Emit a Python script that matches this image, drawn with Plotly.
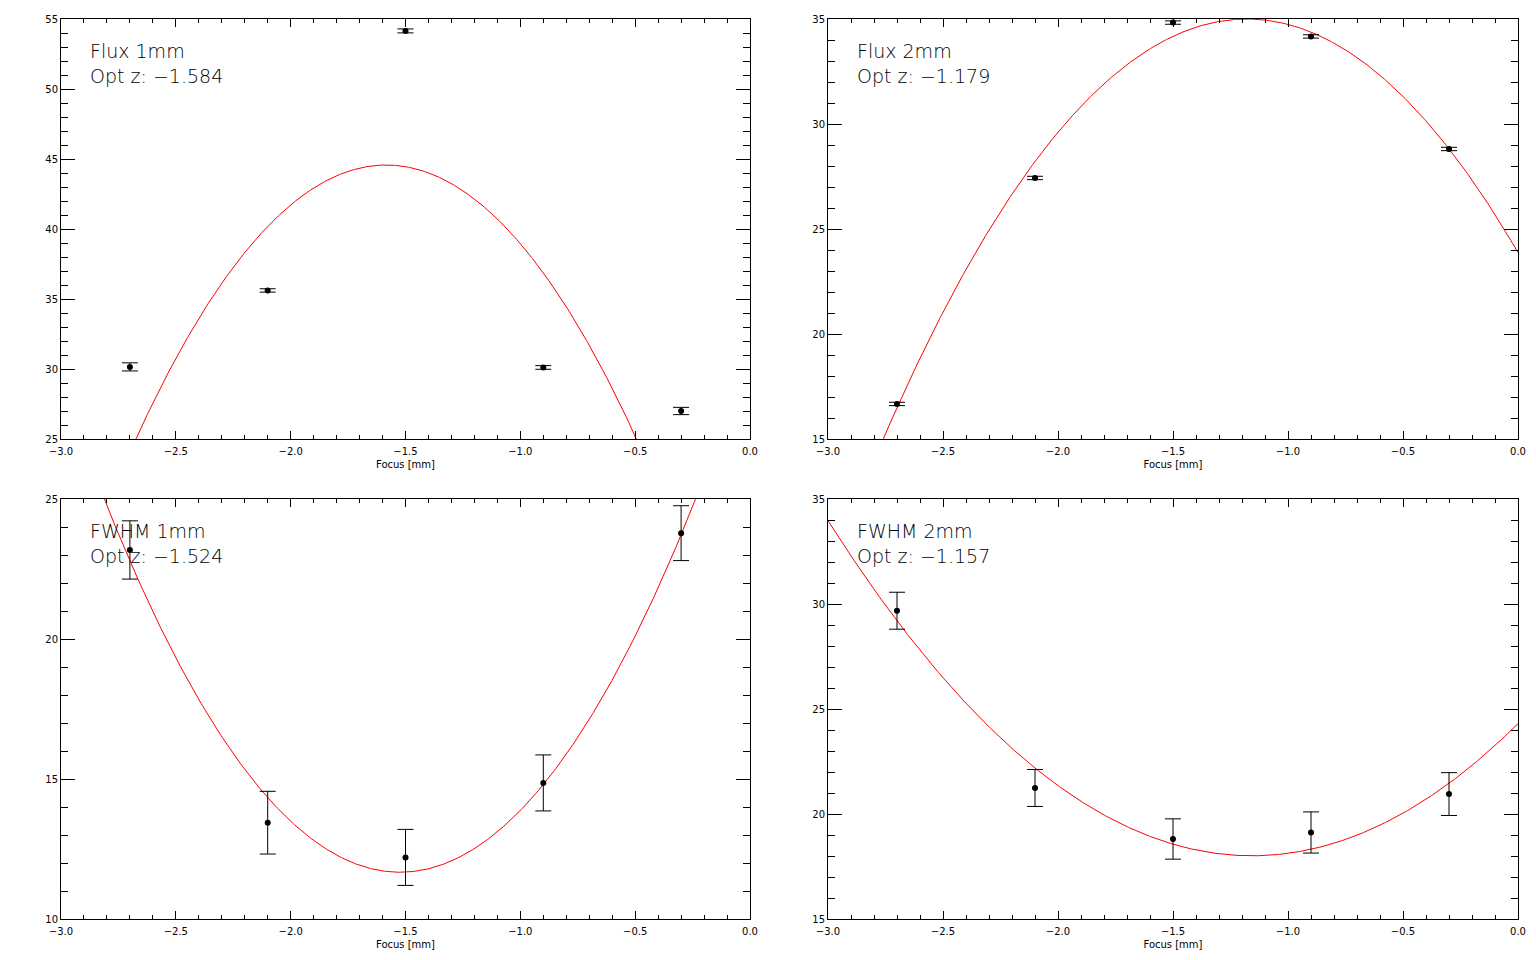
import numpy as np
import plotly.graph_objects as go

# ---- data ----
focus = [-2.7, -2.1, -1.5, -0.9, -0.3]

flux1_vals = [30.15, 35.61, 54.15, 30.11, 27.0]
flux1_errs = [0.29, 0.12, 0.14, 0.13, 0.26]

flux2_vals = [16.67, 27.43, 34.83, 34.17, 28.81]
flux2_errs = [0.08, 0.08, 0.08, 0.08, 0.08]

fwhm1_vals = [23.18, 13.44, 12.20, 14.86, 23.78]
fwhm1_errs = [1.04, 1.12, 1.00, 1.00, 0.98]

fwhm2_vals = [29.68, 21.24, 18.81, 19.12, 20.95]
fwhm2_errs = [0.88, 0.88, 0.96, 0.98, 1.02]

# quadratic fit: vertex (opt z, extremum value) and curvature
panel_names = ["Flux 1mm", "Flux 2mm", "FWHM 1mm", "FWHM 2mm"]
opt_z = [-1.584, -1.179, -1.524, -1.157]
fit_extremum = [44.57, 35.0, 11.67, 18.01]
fit_curvature = [-16.47, -8.0, 8.04, 4.70]

y_ranges = [[25, 55], [15, 35], [10, 25], [15, 35]]
x_range = [-3.0, 0.0]
x_label = "Focus [mm]"

vals = [flux1_vals, flux2_vals, fwhm1_vals, fwhm2_vals]
errs = [flux1_errs, flux2_errs, fwhm1_errs, fwhm2_errs]

OFF = 8  # page body margin
W, H = 1536 - OFF, 960 - OFF
# page-pixel boxes for panels (left, right, top, bottom)
boxes = [(61, 750, 19, 439), (828, 1518, 19, 439),
         (61, 750, 499, 919), (828, 1518, 499, 919)]

fig = go.Figure()
font_ticks = dict(family="DejaVu Sans", size=10, color="black")
font_text = dict(family="DejaVu Sans", size=19, color="black", weight=200)

for i in range(4):
    l, r, t, b = [v - OFF for v in boxes[i]]
    xa = "xaxis" if i == 0 else f"xaxis{i+1}"
    ya = "yaxis" if i == 0 else f"yaxis{i+1}"
    xr = "x" if i == 0 else f"x{i+1}"
    yr = "y" if i == 0 else f"y{i+1}"

    xs = np.linspace(x_range[0], x_range[1], 600)
    ys = fit_extremum[i] + fit_curvature[i] * (xs - opt_z[i]) ** 2
    fig.add_trace(go.Scatter(x=xs, y=ys, mode="lines",
                             line=dict(color="red", width=1),
                             xaxis=xr, yaxis=yr, showlegend=False,
                             hoverinfo="skip"))
    fig.add_trace(go.Scatter(x=focus, y=vals[i], mode="markers",
                             marker=dict(color="black", size=6),
                             error_y=dict(type="data", array=errs[i],
                                          color="black", thickness=1, width=8),
                             xaxis=xr, yaxis=yr, showlegend=False))

    fig.layout[xa] = dict(
        domain=[l / W, r / W], anchor=yr, range=x_range, automargin=False,
        showline=True, linecolor="black", linewidth=1, mirror="ticks",
        ticks="inside", ticklen=8, tickcolor="black", tickwidth=1,
        dtick=0.5, tick0=0, tickformat=".1f", tickfont=font_ticks,
        ticklabelstandoff=3,
        minor=dict(dtick=0.1, ticklen=4, ticks="inside", tickcolor="black"),
        showgrid=False, zeroline=False,
        title=dict(text=x_label, font=font_ticks, standoff=4),
    )
    fig.layout[ya] = dict(
        domain=[1 - b / H, 1 - t / H], anchor=xr, range=y_ranges[i],
        automargin=False,
        showline=True, linecolor="black", linewidth=1, mirror="ticks",
        ticks="inside", ticklen=14, tickcolor="black", tickwidth=1,
        dtick=5, tickfont=font_ticks,
        minor=dict(dtick=1, ticklen=7, ticks="inside", tickcolor="black"),
        showgrid=False, zeroline=False,
    )

    ad = f"{xr} domain"
    yd = f"{yr} domain"
    label = f"{panel_names[i]}<br>Opt z: \u2212{abs(opt_z[i]):.3f}"
    fig.add_annotation(text=label, xref=ad, yref=yd, align="left",
                       x=28 / (r - l), y=(b - (t + 44.5)) / (b - t),
                       xanchor="left", yanchor="middle", showarrow=False,
                       borderpad=0, font=font_text)

fig.update_layout(width=W, height=H, margin=dict(l=0, r=0, t=0, b=0),
                  plot_bgcolor="white", paper_bgcolor="white")
fig.write_html("out.html")
